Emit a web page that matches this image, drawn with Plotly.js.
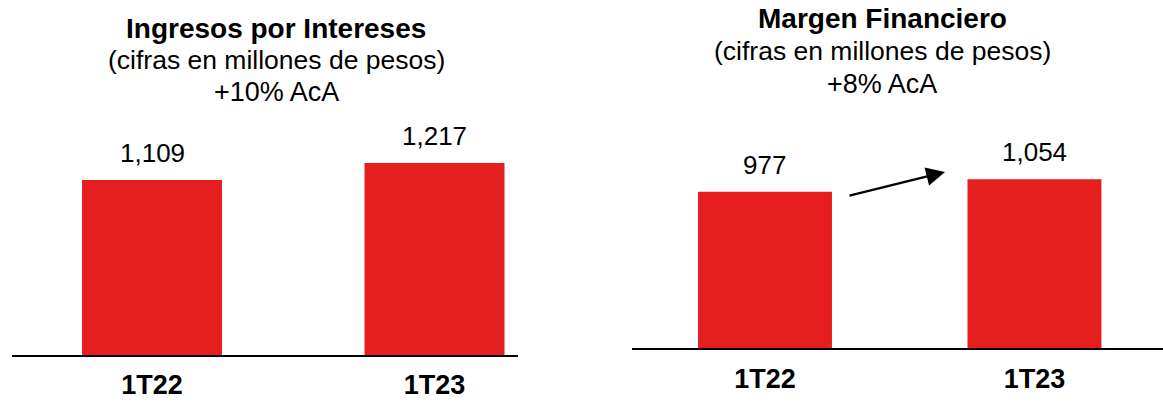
<!DOCTYPE html>
<html>
<head>
<meta charset="utf-8">
<script src="https://cdn.plot.ly/plotly-3.0.1.min.js"></script>
<style>html,body{margin:0;padding:0;background:#fff;}#chart{width:1163px;height:402px;}</style>
</head>
<body>
<div id="chart"></div>
<script>
// Data
const categories = ['1T22', '1T23'];
const ingresosValues = [1109, 1217];
const margenValues = [977, 1054];
const ingresosTitle = ['<b>Ingresos por Intereses</b>', '(cifras en millones de pesos)', '+10% AcA'];
const margenTitle = ['<b>Margen Financiero</b>', '(cifras en millones de pesos)', '+8% AcA'];
const valueLabels = v => v.toLocaleString('en-US');

const RED = '#E51E20';
const FONT = 'Liberation Sans, Arial, sans-serif';

const traces = [
  {type: 'bar', x: categories, y: ingresosValues, xaxis: 'x', yaxis: 'y',
   marker: {color: RED}, width: 0.4956, hoverinfo: 'none'},
  {type: 'bar', x: categories, y: margenValues, xaxis: 'x2', yaxis: 'y2',
   marker: {color: RED}, width: 0.497, hoverinfo: 'none'}
];

const annotations = [];
const titleSizes = [28, 26.5, 27];
function titleLines(lines, xc, ys) {
  lines.forEach((t, i) => annotations.push({
    xref: 'paper', yref: 'paper', x: xc / 1163, y: 1 - ys[i] / 402,
    xanchor: 'center', yanchor: 'middle', showarrow: false, text: t,
    font: {family: FONT, size: titleSizes[i], color: '#000'}
  }));
}
titleLines(ingresosTitle, 276, [28, 60, 92]);
titleLines(margenTitle, 882, [19, 51, 84]);

function valueAnn(vals, xr, yr) {
  vals.forEach((v, i) => annotations.push({
    xref: xr, yref: yr, x: categories[i], y: v, xanchor: 'center', yanchor: 'bottom',
    yshift: 10, showarrow: false, text: valueLabels(v),
    font: {family: FONT, size: 26, color: '#000'}
  }));
}
valueAnn(ingresosValues, 'x', 'y');
valueAnn(margenValues, 'x2', 'y2');

// growth arrow in right chart (axis units)
annotations.push({
  xref: 'x2', yref: 'y2', axref: 'x2', ayref: 'y2',
  x: 0.668, y: 1100, ax: 0.308, ay: 950,
  showarrow: true, arrowhead: 2, arrowsize: 1.7, arrowwidth: 2.2, arrowcolor: '#000', text: ''
});

const tickFont = {family: FONT, size: 27, color: '#000', weight: 'bold'};
const layout = {
  width: 1163, height: 402,
  margin: {l: 0, r: 0, t: 0, b: 0},
  paper_bgcolor: '#fff', plot_bgcolor: '#fff',
  showlegend: false,
  font: {family: FONT, color: '#000'},
  xaxis: {domain: [12 / 1163, 518 / 1163], range: [-0.4956, 1.2956], type: 'category',
    showline: true, linecolor: '#000', linewidth: 2, ticks: '', showgrid: false, zeroline: false,
    tickfont: tickFont, ticklabelstandoff: 5, fixedrange: true},
  yaxis: {domain: [(402 - 355) / 402, 1], range: [0, 355 / 0.1578], visible: false, showgrid: false, fixedrange: true},
  xaxis2: {domain: [632 / 1163, 1], range: [-0.4935, 1.477], type: 'category', anchor: 'y2',
    showline: true, linecolor: '#000', linewidth: 2, ticks: '', showgrid: false, zeroline: false,
    tickfont: tickFont, ticklabelstandoff: 6, fixedrange: true},
  yaxis2: {domain: [(402 - 348) / 402, 1], range: [0, 348 / 0.16], visible: false, anchor: 'x2', showgrid: false, fixedrange: true},
  annotations: annotations
};

Plotly.newPlot('chart', traces, layout, {displayModeBar: false, staticPlot: true});
</script>
</body>
</html>
